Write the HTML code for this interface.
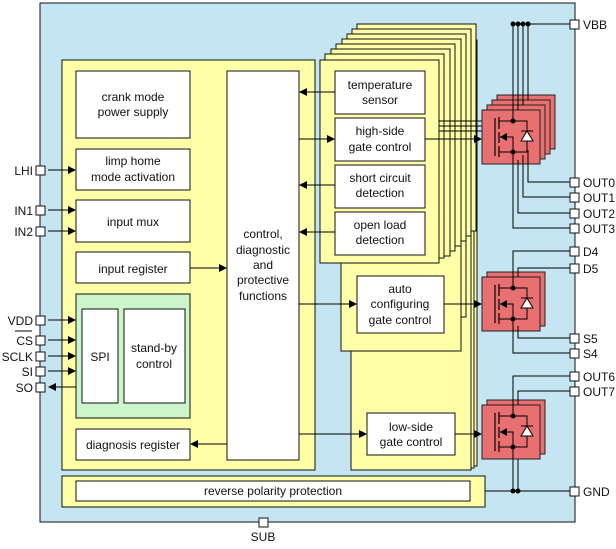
<!DOCTYPE html>
<html><head><meta charset="utf-8"><style>
html,body{margin:0;padding:0;background:#fff}
svg text{font-family:"Liberation Sans",sans-serif;font-size:12px;fill:#111}
</style></head><body>
<svg width="616" height="544" viewBox="0 0 616 544" xmlns="http://www.w3.org/2000/svg">
<defs>
<marker id="a" markerWidth="8" markerHeight="8" refX="7" refY="4" orient="auto" markerUnits="userSpaceOnUse"><path d="M0,0 L8,4 L0,8 z" fill="#000"/></marker>
<g id="fet">
<rect x="0" y="0" width="58" height="54" fill="#e87070" stroke="#222" stroke-width="1"/>
<line x1="13" y1="8" x2="13" y2="46" stroke="#000" stroke-width="1.2"/>
<line x1="17" y1="7" x2="17" y2="19" stroke="#000" stroke-width="1.2"/>
<line x1="17" y1="22" x2="17" y2="33" stroke="#000" stroke-width="1.2"/>
<line x1="17" y1="36" x2="17" y2="47" stroke="#000" stroke-width="1.2"/>
<polyline points="17,11 31,11 31,2" fill="none" stroke="#000"/>
<polyline points="17,42 31,42 31,52" fill="none" stroke="#000"/>
<polyline points="18,27 31,27 31,42" fill="none" stroke="#000"/>
<path d="M18,27 L25,23 L25,31 z" fill="#000"/>
<polyline points="31,11 45,11 45,42 31,42" fill="none" stroke="#000"/>
<path d="M39,31 L51,31 L45,21 z" fill="#fff" stroke="#000"/>
<line x1="39" y1="21" x2="51" y2="21" stroke="#000"/>
<circle cx="31" cy="11" r="2.5" fill="#000"/><circle cx="31" cy="42" r="2.5" fill="#000"/>
</g>
</defs>
<rect x="40" y="3" width="535" height="519" fill="#c5e5f2" stroke="#111" stroke-width="1"/>
<rect x="62" y="60" width="253" height="410" fill="#ffffa8" stroke="#111"/>
<rect x="62" y="476" width="423" height="31" fill="#ffffa8" stroke="#111"/>
<rect x="76" y="481" width="394" height="20" fill="#fff" stroke="#111"/>
<text x="273" y="495" text-anchor="middle">reverse polarity protection</text>
<rect x="357" y="40" width="120" height="426" fill="#ffffa8" stroke="#111"/>
<rect x="354" y="45" width="120" height="423" fill="#ffffa8" stroke="#111"/>
<rect x="351" y="50" width="120" height="420" fill="#ffffa8" stroke="#111"/>
<rect x="346" y="55" width="120" height="262" fill="#ffffa8" stroke="#111"/>
<rect x="341" y="60" width="120" height="291" fill="#ffffa8" stroke="#111"/>
<rect x="357" y="24" width="119" height="207" fill="#ffffa8" stroke="#111"/>
<rect x="352" y="29" width="119" height="207" fill="#ffffa8" stroke="#111"/>
<rect x="347" y="34" width="119" height="207" fill="#ffffa8" stroke="#111"/>
<rect x="342" y="39" width="119" height="207" fill="#ffffa8" stroke="#111"/>
<rect x="336" y="44" width="119" height="207" fill="#ffffa8" stroke="#111"/>
<rect x="331" y="49" width="119" height="207" fill="#ffffa8" stroke="#111"/>
<rect x="325" y="54" width="119" height="204" fill="#ffffa8" stroke="#111"/>
<rect x="320" y="60" width="119" height="203" fill="#ffffa8" stroke="#111"/>
<g fill="#fff" stroke="#111">
<rect x="76" y="71" width="114" height="67"/>
<rect x="76" y="149" width="114" height="41"/>
<rect x="76" y="200" width="114" height="42"/>
<rect x="76" y="252" width="114" height="31"/>
<rect x="76" y="294" width="114" height="124" fill="#ccf5cc"/>
<rect x="82" y="309" width="36" height="94"/>
<rect x="124" y="309" width="61" height="94"/>
<rect x="76" y="429" width="114" height="31"/>
<rect x="227" y="71" width="72" height="389"/>
<rect x="335" y="71" width="90" height="43"/>
<rect x="335" y="118" width="90" height="43"/>
<rect x="335" y="165" width="90" height="43"/>
<rect x="335" y="212" width="90" height="43"/>
<rect x="357" y="276" width="87" height="57"/>
<rect x="367" y="413" width="88" height="42"/>
</g>
<g text-anchor="middle">
<text x="133" y="101">crank mode</text><text x="133" y="116">power supply</text>
<text x="133" y="165">limp home</text><text x="133" y="181">mode activation</text>
<text x="133" y="226">input mux</text>
<text x="133" y="273">input register</text>
<text x="100" y="361">SPI</text>
<text x="154" y="352">stand-by</text><text x="154" y="368">control</text>
<text x="133" y="449">diagnosis register</text>
<text x="263" y="238">control,</text><text x="263" y="254">diagnostic</text><text x="263" y="269">and</text><text x="263" y="284">protective</text><text x="263" y="300">functions</text>
<text x="380" y="89">temperature</text><text x="380" y="104">sensor</text>
<text x="380" y="135">high-side</text><text x="380" y="151">gate control</text>
<text x="380" y="182">short circuit</text><text x="380" y="197">detection</text>
<text x="380" y="229">open load</text><text x="380" y="244">detection</text>
<text x="400" y="293">auto</text><text x="400" y="308">configuring</text><text x="400" y="324">gate control</text>
<text x="411" y="431">low-side</text><text x="411" y="446">gate control</text>
</g>
<g stroke="#000" fill="none">
<line x1="335" y1="92" x2="300" y2="92" marker-end="url(#a)"/>
<line x1="299" y1="139" x2="334" y2="139" marker-end="url(#a)"/>
<line x1="335" y1="185" x2="300" y2="185" marker-end="url(#a)"/>
<line x1="335" y1="232" x2="300" y2="232" marker-end="url(#a)"/>
<line x1="190" y1="268" x2="226" y2="268" marker-end="url(#a)"/>
<line x1="227" y1="444" x2="191" y2="444" marker-end="url(#a)"/>
<line x1="299" y1="304" x2="356" y2="304" marker-end="url(#a)"/>
<line x1="299" y1="434" x2="366" y2="434" marker-end="url(#a)"/>
<line x1="425" y1="139" x2="481" y2="139" marker-end="url(#a)"/>
<line x1="439" y1="121" x2="496" y2="121"/><line x1="439" y1="126" x2="491" y2="126"/><line x1="439" y1="131" x2="486" y2="131"/>
<line x1="444" y1="304" x2="481" y2="304" marker-end="url(#a)"/>
<line x1="455" y1="434" x2="481" y2="434" marker-end="url(#a)"/>
<line x1="48" y1="170" x2="75" y2="170" marker-end="url(#a)"/>
<line x1="48" y1="210" x2="75" y2="210" marker-end="url(#a)"/>
<line x1="48" y1="231" x2="75" y2="231" marker-end="url(#a)"/>
<line x1="48" y1="320" x2="75" y2="320" marker-end="url(#a)"/>
<line x1="48" y1="340" x2="75" y2="340" marker-end="url(#a)"/>
<line x1="48" y1="356" x2="75" y2="356" marker-end="url(#a)"/>
<line x1="48" y1="371" x2="75" y2="371" marker-end="url(#a)"/>
<line x1="76" y1="387" x2="49" y2="387" marker-end="url(#a)"/>
</g>
<use href="#fet" x="497" y="95"/><use href="#fet" x="492" y="100"/><use href="#fet" x="487" y="105"/><use href="#fet" x="482" y="110"/>
<use href="#fet" x="487" y="272"/><use href="#fet" x="482" y="277"/>
<use href="#fet" x="487" y="400"/><use href="#fet" x="482" y="405"/>
<g stroke="#000" fill="none">
<line x1="513" y1="24" x2="570" y2="24"/>
<line x1="513" y1="24" x2="513" y2="121"/><line x1="518" y1="24" x2="518" y2="110"/><line x1="523" y1="24" x2="523" y2="105"/><line x1="528" y1="24" x2="528" y2="100"/>
<polyline points="528,150 528,182 570,182"/>
<polyline points="523,155 523,197 570,197"/>
<polyline points="518,160 518,213 570,213"/>
<polyline points="513,152 513,228 570,228"/>
<polyline points="513,288 513,251 570,251"/>
<polyline points="518,277 518,268 570,268"/>
<polyline points="518,326 518,338 570,338"/>
<polyline points="513,319 513,353 570,353"/>
<polyline points="513,416 513,376 570,376"/>
<polyline points="518,405 518,391 570,391"/>
<line x1="513" y1="447" x2="513" y2="491"/><line x1="518" y1="459" x2="518" y2="491"/>
<line x1="485" y1="491" x2="570" y2="491"/>
</g>
<g fill="#000"><circle cx="513" cy="24" r="2.5"/><circle cx="518" cy="24" r="2.5"/><circle cx="523" cy="24" r="2.5"/><circle cx="528" cy="24" r="2.5"/>
<circle cx="513" cy="491" r="2.5"/><circle cx="518" cy="491" r="2.5"/></g>
<g fill="#fff" stroke="#111">
<rect x="570" y="20" width="9" height="9"/><rect x="570" y="178" width="9" height="9"/><rect x="570" y="193" width="9" height="9"/><rect x="570" y="209" width="9" height="9"/><rect x="570" y="224" width="9" height="9"/><rect x="570" y="247" width="9" height="9"/><rect x="570" y="264" width="9" height="9"/><rect x="570" y="334" width="9" height="9"/><rect x="570" y="349" width="9" height="9"/><rect x="570" y="372" width="9" height="9"/><rect x="570" y="387" width="9" height="9"/><rect x="570" y="487" width="9" height="9"/>
<rect x="36" y="166" width="9" height="9"/><rect x="36" y="206" width="9" height="9"/><rect x="36" y="227" width="9" height="9"/><rect x="36" y="316" width="9" height="9"/><rect x="36" y="336" width="9" height="9"/><rect x="36" y="352" width="9" height="9"/><rect x="36" y="367" width="9" height="9"/><rect x="36" y="383" width="9" height="9"/>
<rect x="259" y="518" width="9" height="9"/>
</g>
<g>
<text x="583" y="29">VBB</text><text x="583" y="187">OUT0</text><text x="583" y="202">OUT1</text><text x="583" y="218">OUT2</text><text x="583" y="233">OUT3</text><text x="583" y="256">D4</text><text x="583" y="273">D5</text><text x="583" y="343">S5</text><text x="583" y="358">S4</text><text x="583" y="381">OUT6</text><text x="583" y="396">OUT7</text><text x="583" y="496">GND</text>
</g>
<g text-anchor="end">
<text x="33" y="175">LHI</text><text x="33" y="215">IN1</text><text x="33" y="236">IN2</text><text x="33" y="325">VDD</text><text x="33" y="345">CS</text><text x="33" y="361">SCLK</text><text x="33" y="376">SI</text><text x="33" y="392">SO</text>
</g>
<line x1="15" y1="331" x2="32" y2="331" stroke="#000"/>
<text x="263" y="541" text-anchor="middle">SUB</text>
</svg>
</body></html>
